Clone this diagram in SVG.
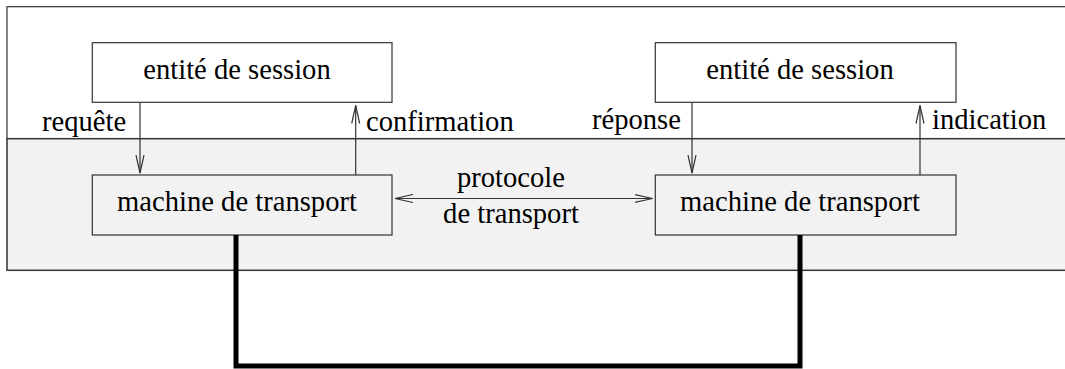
<svg xmlns="http://www.w3.org/2000/svg" width="1065" height="369" viewBox="0 0 1065 369">
<style>
.box{stroke:#333;stroke-width:1.2}
.t{font-family:"Liberation Serif","Times New Roman",serif;font-size:28.6px;fill:#000}
.m{text-anchor:middle}
.ln{stroke:#333;stroke-width:1.2;fill:none}
</style>
<defs>
<marker id="ah" markerWidth="20" markerHeight="10" refX="18" refY="5" orient="auto-start-reverse" markerUnits="userSpaceOnUse">
<path d="M0,1 L18,5 L0,9" fill="none" stroke="#333" stroke-width="1.2"/>
</marker>
</defs>
<g id="frame">
<rect x="7" y="6.7" width="1070" height="132" fill="#fff" stroke="#333" stroke-width="1.2"/>
<rect x="7" y="138.7" width="1070" height="131.6" fill="#f2f2f2" stroke="#333" stroke-width="1.5"/>
</g>
<g id="session-left">
<rect class="box" x="92.3" y="42.7" width="299.7" height="59.6" fill="#fff"/>
<text class="t m" x="237" y="78.5">entité de session</text>
</g>
<g id="session-right">
<rect class="box" x="655.3" y="42.7" width="300.7" height="59.6" fill="#fff"/>
<text class="t m" x="800" y="78.5">entité de session</text>
</g>
<g id="transport-left">
<rect class="box" x="92.3" y="175" width="299.7" height="60" fill="#f2f2f2"/>
<text class="t m" x="237" y="210.5">machine de transport</text>
</g>
<g id="transport-right">
<rect class="box" x="655.3" y="175" width="300.7" height="60" fill="#f2f2f2"/>
<text class="t m" x="800" y="210.5">machine de transport</text>
</g>
<g id="connectors">
<line class="ln" x1="140" y1="102.3" x2="140" y2="173" marker-end="url(#ah)"/>
<line class="ln" x1="355.7" y1="175" x2="355.7" y2="105.5" marker-end="url(#ah)"/>
<line class="ln" x1="692" y1="102.3" x2="692" y2="173" marker-end="url(#ah)"/>
<line class="ln" x1="920" y1="175" x2="920" y2="105.5" marker-end="url(#ah)"/>
<line class="ln" x1="395" y1="198.5" x2="652.5" y2="198.5" marker-start="url(#ah)" marker-end="url(#ah)"/>
<path d="M236,235 V366 H800 V235" fill="none" stroke="#000" stroke-width="5"/>
</g>
<g id="labels">
<text class="t" x="42" y="131">requête</text>
<text class="t" x="366" y="131">confirmation</text>
<text class="t" x="592" y="128.5">réponse</text>
<text class="t" x="932" y="128.5">indication</text>
<text class="t m" x="511" y="186.7">protocole</text>
<text class="t m" x="511" y="223.3">de transport</text>
</g>
</svg>
